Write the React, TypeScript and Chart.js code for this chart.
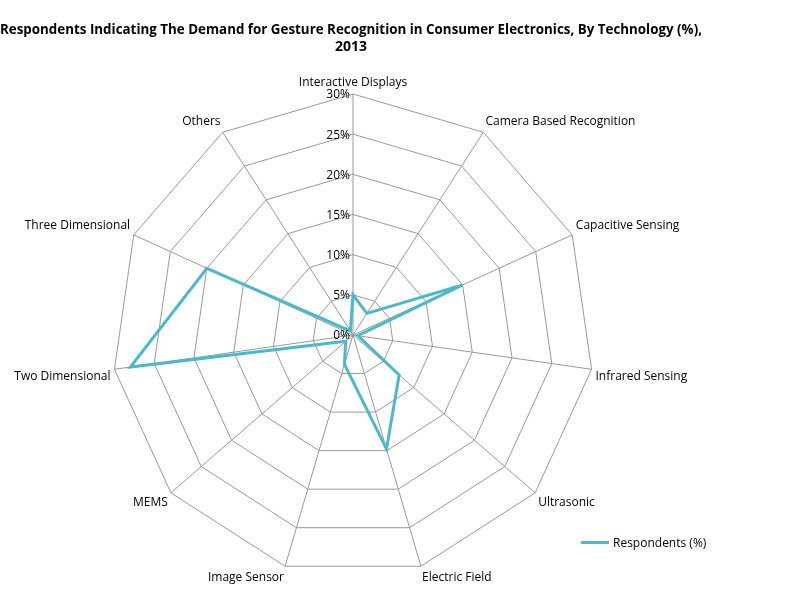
import React, { useEffect, useRef } from "react";
import { Chart, registerables } from "chart.js";
Chart.register(...registerables);

const categories = ["Interactive Displays","Camera Based Recognition","Capacitive Sensing","Infrared Sensing","Ultrasonic","Electric Field","Image Sensor","MEMS","Two Dimensional","Three Dimensional","Others"];
const respondents = [5, 3.2, 15, 0.6, 7.6, 14.8, 3.8, 1.2, 28, 20, 0.6];
const tickValues = [0, 5, 10, 15, 20, 25, 30];
const seriesName = "Respondents (%)";
const FONT = "'Open Sans', sans-serif";

const tickPlugin = {
  id: "leftTicks",
  afterDraw(chart: any) {
    const s = chart.scales.r;
    const ctx = chart.ctx;
    ctx.save();
    ctx.font = `12px ${FONT}`;
    ctx.fillStyle = "#000";
    ctx.textAlign = "right";
    ctx.textBaseline = "middle";
    tickValues.forEach((v) => {
      const d = s.getDistanceFromCenterForValue(v);
      ctx.fillText(v + "%", s.xCenter - 3, s.yCenter - d + 1);
    });
    ctx.restore();
  },
};

export default function App() {
  const ref = useRef<HTMLCanvasElement>(null);
  useEffect(() => {
    const chart = new Chart(ref.current!, {
      type: "radar",
      data: { labels: categories, datasets: [{ label: seriesName, data: respondents, borderColor: "#4bb8cc", borderWidth: 3, pointRadius: 0, fill: false, tension: 0 }] },
      options: {
        animation: false, responsive: false,
        layout: { padding: { top: 22, left: 0, right: 100, bottom: 0 } },
        plugins: {
          legend: { display: false },
          tooltip: { enabled: false },
          title: { display: true, text: ["Respondents Indicating The Demand for Gesture Recognition in Consumer Electronics, By Technology (%),", "2013"], color: "#000", font: { family: FONT, size: 14, weight: "bold" }, padding: { top: 0, bottom: 14 } },
        },
        scales: {
          r: {
            min: 0, max: 30,
            ticks: { stepSize: 5, display: false },
            grid: { color: "#999", lineWidth: 1 },
            angleLines: { color: "#999" },
            pointLabels: { color: "#000", font: { family: FONT, size: 12 }, padding: 4 },
          },
        },
      },
      plugins: [tickPlugin],
    });
    return () => chart.destroy();
  }, []);
  return (
    <div style={{ position: "fixed", left: 0, top: 0, width: 802, height: 590, background: "#fff" }}>
      <canvas ref={ref} width={802} height={590} style={{ position: "absolute", left: 0, top: 0 }} />
      <div style={{ position: "absolute", left: 581, top: 534, display: "flex", alignItems: "center", fontFamily: FONT, fontSize: 12 }}>
        <span style={{ display: "inline-block", width: 28, height: 3, background: "#4bb8cc", marginRight: 4 }} />
        {seriesName}
      </div>
    </div>
  );
}
